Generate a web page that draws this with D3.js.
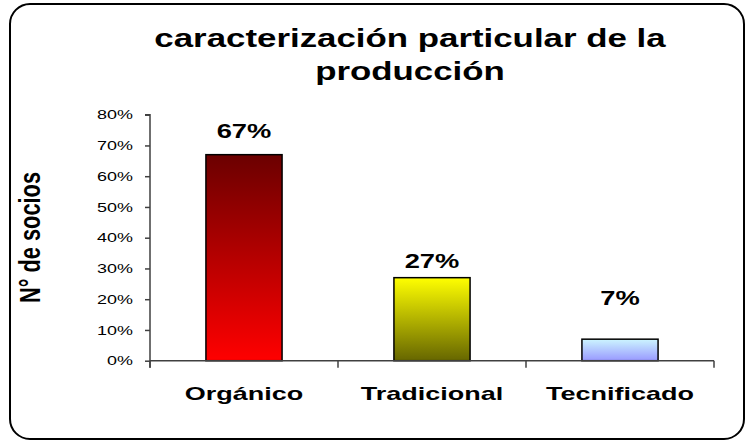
<!DOCTYPE html>
<html>
<head>
<meta charset="utf-8">
<script src="https://cdn.jsdelivr.net/npm/d3@7"></script>
<style>
  body { margin: 0; background: #fff; }
  svg { display: block; font-family: Arial, "Liberation Sans", sans-serif; }
</style>
</head>
<body>
<svg id="chart" width="752" height="441"></svg>
<script>
var categories = ["Orgánico", "Tradicional", "Tecnificado"];
var values = [0.67, 0.27, 0.07];
var valueLabels = ["67%", "27%", "7%"];
var yTicks = [0, 0.1, 0.2, 0.3, 0.4, 0.5, 0.6, 0.7, 0.8];
var titleLines = ["caracterización particular de la", "producción"];
var yTitle = "N° de socios";

// gradient colours per bar (top, bottom)
var barColors = [["#6b0000", "#ff0000"], ["#ffff00", "#666600"], ["#ccf5ff", "#9999ff"]];
// excel put the data labels a bit oddly, keep the gaps
var labelGap = [17, 10, 34];
// the original picture is stretched sideways, so is the text
var stretch = 1.4;

var svg = d3.select("#chart");

var margin = { top: 114.7, right: 38, bottom: 80, left: 150 };
var plotWidth = 752 - margin.left - margin.right;
var plotHeight = 360.7 - margin.top;

// frame
svg.append("rect")
  .attr("x", 10).attr("y", 4)
  .attr("width", 734).attr("height", 435)
  .attr("rx", 20).attr("ry", 20)
  .attr("fill", "#fff")
  .attr("stroke", "#000")
  .attr("stroke-width", 2);

var defs = svg.append("defs");
barColors.forEach(function(c, i) {
  var g = defs.append("linearGradient")
    .attr("id", "grad" + i)
    .attr("x1", 0).attr("y1", 0).attr("x2", 0).attr("y2", 1);
  g.append("stop").attr("offset", "0%").attr("stop-color", c[0]);
  g.append("stop").attr("offset", "100%").attr("stop-color", c[1]);
});

function widen(sel, k) {
  sel.each(function() {
    var w = this.getComputedTextLength();
    d3.select(this)
      .attr("textLength", w * k)
      .attr("lengthAdjust", "spacingAndGlyphs");
  });
}

svg.selectAll(".title")
  .data(titleLines)
  .enter()
  .append("text")
  .attr("class", "title")
  .attr("text-anchor", "middle")
  .attr("font-weight", "bold")
  .attr("font-size", "26px")
  .attr("x", 410)
  .attr("y", function(d, i) { return 47 + i * 33; })
  .text(function(d) { return d; })
  .call(widen, 1.34);

var plot = svg.append("g")
  .attr("transform", translate(margin.left, margin.top));

var xScale = d3.scaleBand()
  .domain(categories)
  .range([0, plotWidth])
  .paddingInner(0.595)
  .paddingOuter(0.2975);

var yScale = d3.scaleLinear()
  .domain([0, 0.8])
  .range([plotHeight, 0]);

var data = categories.map(function(c, i) { return { key: c, value: values[i], label: valueLabels[i], i: i }; });

plot.selectAll(".bar")
  .data(data)
  .enter()
  .append("rect")
  .attr("class", "bar")
  .attr("x", function(d) { return xScale(d.key); })
  .attr("width", xScale.bandwidth())
  .attr("y", function(d) { return yScale(d.value); })
  .attr("height", function(d) { return plotHeight - yScale(d.value); })
  .attr("fill", function(d) { return "url(#grad" + d.i + ")"; })
  .attr("stroke", "#000")
  .attr("stroke-width", 1.5);

plot.selectAll(".val")
  .data(data)
  .enter()
  .append("text")
  .attr("class", "val")
  .attr("text-anchor", "middle")
  .attr("font-weight", "bold")
  .attr("font-size", "19.5px")
  .attr("x", function(d) { return xScale(d.key) + xScale.bandwidth() / 2; })
  .attr("y", function(d) { return yScale(d.value) - labelGap[d.i]; })
  .text(function(d) { return d.label; })
  .call(widen, stretch);

// y axis
var yAxis = d3.axisLeft(yScale)
  .tickValues(yTicks)
  .tickFormat(d3.format(".0%"))
  .tickSize(5)
  .tickPadding(12);

var yG = plot.append("g").call(yAxis);
yG.select(".domain").attr("stroke", "#404040").attr("stroke-width", 1.5).attr("d", "M-5,0H0V" + (plotHeight + 7));
yG.selectAll(".tick line").attr("stroke", "#404040").attr("stroke-width", 1.5);
yG.selectAll(".tick text")
  .attr("font-size", "13px")
  .attr("font-family", "Arial, 'Liberation Sans', sans-serif")
  .attr("fill", "#000")
  .call(widen, 1.38);

// x axis, ticks sit between the categories
var xG = plot.append("g").attr("transform", translate(0, plotHeight));
xG.append("line")
  .attr("x1", 0).attr("x2", plotWidth)
  .attr("stroke", "#404040").attr("stroke-width", 1.5);
var step = xScale.step();
var x0 = xScale(categories[0]) - xScale.paddingOuter() * step;
xG.selectAll(".xt")
  .data(d3.range(categories.length + 1))
  .enter()
  .append("line")
  .attr("class", "xt")
  .attr("x1", function(d) { return x0 + d * step; })
  .attr("x2", function(d) { return x0 + d * step; })
  .attr("y1", 0).attr("y2", 7)
  .attr("stroke", "#404040").attr("stroke-width", 1.5);

xG.selectAll(".cat")
  .data(categories)
  .enter()
  .append("text")
  .attr("class", "cat")
  .attr("text-anchor", "middle")
  .attr("font-weight", "bold")
  .attr("font-size", "19px")
  .attr("x", function(d) { return xScale(d) + xScale.bandwidth() / 2; })
  .attr("y", 39.3)
  .text(function(d) { return d; })
  .call(widen, 1.42);

svg.append("text")
  .attr("transform", translate(40, 237.5) + " scale(" + stretch + ",1) rotate(-90)")
  .attr("text-anchor", "middle")
  .attr("font-weight", "bold")
  .attr("font-size", "21px")
  .attr("textLength", 131)
  .attr("lengthAdjust", "spacingAndGlyphs")
  .text(yTitle);

function translate(x, y) {
  return "translate(" + x + "," + y + ")";
}
</script>
</body>
</html>
